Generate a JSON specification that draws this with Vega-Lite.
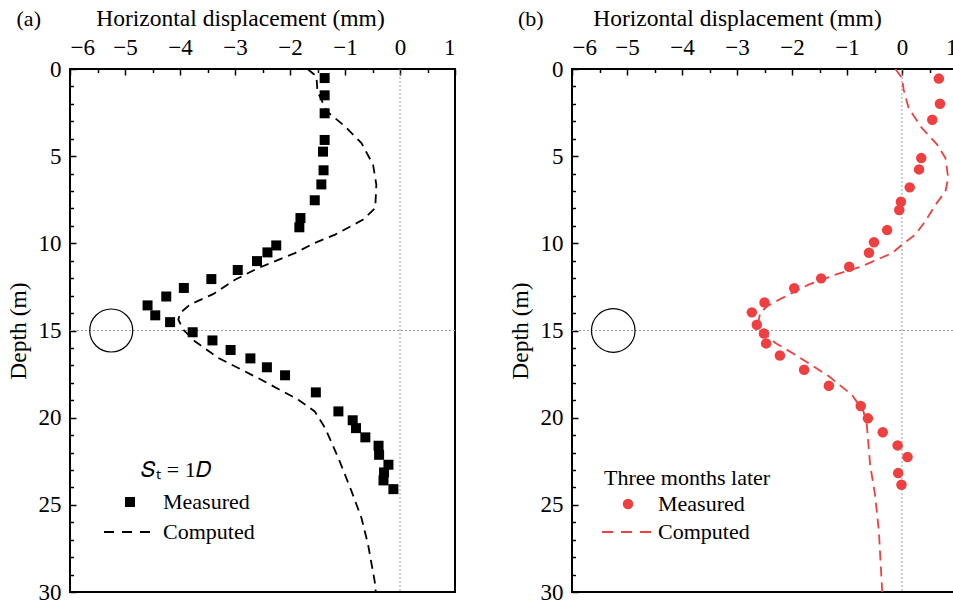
{
  "$schema": "https://vega.github.io/schema/vega-lite/v6.json",
  "padding": {"left": 5, "top": 5, "right": 0, "bottom": 0},
  "config": {
    "font": "Liberation Serif",
    "view": {"stroke": "black", "strokeWidth": 2},
    "axis": {"domain": false, "grid": false, "zindex": 1, "tickColor": "black", "tickWidth": 1.5, "labelColor": "black", "titleColor": "black", "labelFont": "Liberation Serif", "titleFont": "Liberation Serif", "titleFontWeight": "normal", "labelFontSize": 23, "titleFontSize": 23.5},
    "legend": {"labelFont": "Liberation Serif", "titleFont": "Liberation Serif", "labelFontSize": 22, "titleFontSize": 22, "titleFontWeight": "normal", "labelColor": "black", "titleColor": "black", "padding": 0}
  },
  "datasets": {
    "ma": [
      {"x": -1.37, "depth": 0.52, "series": "Measured"}, {"x": -1.37, "depth": 1.51, "series": "Measured"}, {"x": -1.37, "depth": 2.54, "series": "Measured"}, {"x": -1.37, "depth": 4.07, "series": "Measured"}, {"x": -1.40, "depth": 4.74, "series": "Measured"}, {"x": -1.39, "depth": 5.81, "series": "Measured"}, {"x": -1.43, "depth": 6.62, "series": "Measured"}, {"x": -1.55, "depth": 7.53, "series": "Measured"}, {"x": -1.81, "depth": 8.55, "series": "Measured"}, {"x": -1.83, "depth": 9.08, "series": "Measured"}, {"x": -2.25, "depth": 10.12, "series": "Measured"}, {"x": -2.41, "depth": 10.52, "series": "Measured"}, {"x": -2.60, "depth": 11.02, "series": "Measured"}, {"x": -2.95, "depth": 11.53, "series": "Measured"}, {"x": -3.43, "depth": 12.05, "series": "Measured"}, {"x": -3.93, "depth": 12.56, "series": "Measured"}, {"x": -4.25, "depth": 13.05, "series": "Measured"}, {"x": -4.59, "depth": 13.56, "series": "Measured"}, {"x": -4.45, "depth": 14.13, "series": "Measured"}, {"x": -4.18, "depth": 14.52, "series": "Measured"}, {"x": -3.77, "depth": 15.1, "series": "Measured"}, {"x": -3.41, "depth": 15.57, "series": "Measured"}, {"x": -3.08, "depth": 16.12, "series": "Measured"}, {"x": -2.72, "depth": 16.6, "series": "Measured"}, {"x": -2.42, "depth": 17.11, "series": "Measured"}, {"x": -2.09, "depth": 17.57, "series": "Measured"}, {"x": -1.53, "depth": 18.55, "series": "Measured"}, {"x": -1.12, "depth": 19.64, "series": "Measured"}, {"x": -0.86, "depth": 20.15, "series": "Measured"}, {"x": -0.80, "depth": 20.6, "series": "Measured"}, {"x": -0.63, "depth": 21.13, "series": "Measured"}, {"x": -0.39, "depth": 21.61, "series": "Measured"}, {"x": -0.38, "depth": 22.13, "series": "Measured"}, {"x": -0.21, "depth": 22.7, "series": "Measured"}, {"x": -0.29, "depth": 23.14, "series": "Measured"}, {"x": -0.30, "depth": 23.6, "series": "Measured"}, {"x": -0.12, "depth": 24.1, "series": "Measured"}
    ],
    "ca": [
      {"x": -1.68, "depth": 0.0, "series": "Computed"}, {"x": -1.52, "depth": 0.42, "series": "Computed"}, {"x": -1.50, "depth": 1.28, "series": "Computed"}, {"x": -1.33, "depth": 2.43, "series": "Computed"}, {"x": -1.0, "depth": 3.29, "series": "Computed"}, {"x": -0.70, "depth": 4.25, "series": "Computed"}, {"x": -0.49, "depth": 5.49, "series": "Computed"}, {"x": -0.43, "depth": 6.64, "series": "Computed"}, {"x": -0.45, "depth": 7.97, "series": "Computed"}, {"x": -0.67, "depth": 8.64, "series": "Computed"}, {"x": -1.18, "depth": 9.5, "series": "Computed"}, {"x": -1.55, "depth": 9.98, "series": "Computed"}, {"x": -1.91, "depth": 10.56, "series": "Computed"}, {"x": -2.58, "depth": 11.42, "series": "Computed"}, {"x": -3.0, "depth": 12.09, "series": "Computed"}, {"x": -3.39, "depth": 12.9, "series": "Computed"}, {"x": -3.82, "depth": 13.52, "series": "Computed"}, {"x": -4.0, "depth": 14.0, "series": "Computed"}, {"x": -4.03, "depth": 14.38, "series": "Computed"}, {"x": -3.94, "depth": 14.95, "series": "Computed"}, {"x": -3.73, "depth": 15.62, "series": "Computed"}, {"x": -3.30, "depth": 16.58, "series": "Computed"}, {"x": -2.58, "depth": 17.73, "series": "Computed"}, {"x": -1.85, "depth": 18.97, "series": "Computed"}, {"x": -1.55, "depth": 19.64, "series": "Computed"}, {"x": -1.36, "depth": 20.6, "series": "Computed"}, {"x": -1.12, "depth": 22.32, "series": "Computed"}, {"x": -0.88, "depth": 24.23, "series": "Computed"}, {"x": -0.70, "depth": 25.76, "series": "Computed"}, {"x": -0.58, "depth": 27.29, "series": "Computed"}, {"x": -0.46, "depth": 29.39, "series": "Computed"}, {"x": -0.44, "depth": 30.0, "series": "Computed"}
    ],
    "mb": [
      {"x": 0.67, "depth": 0.55, "series": "Measured"}, {"x": 0.69, "depth": 1.99, "series": "Measured"}, {"x": 0.55, "depth": 2.91, "series": "Measured"}, {"x": 0.35, "depth": 5.11, "series": "Measured"}, {"x": 0.31, "depth": 5.76, "series": "Measured"}, {"x": 0.14, "depth": 6.79, "series": "Measured"}, {"x": -0.02, "depth": 7.61, "series": "Measured"}, {"x": -0.05, "depth": 8.09, "series": "Measured"}, {"x": -0.27, "depth": 9.24, "series": "Measured"}, {"x": -0.51, "depth": 9.94, "series": "Measured"}, {"x": -0.60, "depth": 10.54, "series": "Measured"}, {"x": -0.96, "depth": 11.34, "series": "Measured"}, {"x": -1.47, "depth": 12.01, "series": "Measured"}, {"x": -1.96, "depth": 12.58, "series": "Measured"}, {"x": -2.50, "depth": 13.39, "series": "Measured"}, {"x": -2.73, "depth": 13.96, "series": "Measured"}, {"x": -2.64, "depth": 14.67, "series": "Measured"}, {"x": -2.51, "depth": 15.17, "series": "Measured"}, {"x": -2.47, "depth": 15.74, "series": "Measured"}, {"x": -2.22, "depth": 16.43, "series": "Measured"}, {"x": -1.78, "depth": 17.25, "series": "Measured"}, {"x": -1.33, "depth": 18.17, "series": "Measured"}, {"x": -0.75, "depth": 19.33, "series": "Measured"}, {"x": -0.62, "depth": 20.04, "series": "Measured"}, {"x": -0.35, "depth": 20.84, "series": "Measured"}, {"x": -0.08, "depth": 21.59, "series": "Measured"}, {"x": 0.10, "depth": 22.26, "series": "Measured"}, {"x": -0.07, "depth": 23.18, "series": "Measured"}, {"x": -0.01, "depth": 23.85, "series": "Measured"}
    ],
    "cb": [
      {"x": -0.12, "depth": 0.0, "series": "Computed"}, {"x": 0.0, "depth": 0.52, "series": "Computed"}, {"x": 0.03, "depth": 1.19, "series": "Computed"}, {"x": 0.12, "depth": 2.24, "series": "Computed"}, {"x": 0.36, "depth": 3.38, "series": "Computed"}, {"x": 0.64, "depth": 4.34, "series": "Computed"}, {"x": 0.79, "depth": 5.11, "series": "Computed"}, {"x": 0.84, "depth": 6.25, "series": "Computed"}, {"x": 0.79, "depth": 7.02, "series": "Computed"}, {"x": 0.61, "depth": 7.78, "series": "Computed"}, {"x": 0.42, "depth": 8.74, "series": "Computed"}, {"x": 0.24, "depth": 9.5, "series": "Computed"}, {"x": 0.0, "depth": 10.08, "series": "Computed"}, {"x": -0.18, "depth": 10.56, "series": "Computed"}, {"x": -0.73, "depth": 11.32, "series": "Computed"}, {"x": -1.21, "depth": 11.8, "series": "Computed"}, {"x": -1.70, "depth": 12.37, "series": "Computed"}, {"x": -2.18, "depth": 13.14, "series": "Computed"}, {"x": -2.45, "depth": 13.6, "series": "Computed"}, {"x": -2.58, "depth": 14.0, "series": "Computed"}, {"x": -2.61, "depth": 14.48, "series": "Computed"}, {"x": -2.51, "depth": 15.15, "series": "Computed"}, {"x": -2.30, "depth": 15.72, "series": "Computed"}, {"x": -1.94, "depth": 16.39, "series": "Computed"}, {"x": -1.33, "depth": 17.63, "series": "Computed"}, {"x": -0.91, "depth": 18.69, "series": "Computed"}, {"x": -0.70, "depth": 19.64, "series": "Computed"}, {"x": -0.64, "depth": 20.41, "series": "Computed"}, {"x": -0.58, "depth": 22.7, "series": "Computed"}, {"x": -0.49, "depth": 24.42, "series": "Computed"}, {"x": -0.42, "depth": 26.52, "series": "Computed"}, {"x": -0.36, "depth": 30.0, "series": "Computed"}
    ],
    "tunnel": [{"x": -5.25, "depth": 15}],
    "la": [{"label": "(a)"}],
    "lb": [{"label": "(b)"}]
  },
  "resolve": {"scale": {"x": "independent", "y": "independent", "color": "independent"}, "legend": {"color": "independent"}},
  "spacing": 50,
  "hconcat": [
    {
      "width": 385, "height": 523,
      "resolve": {"axis": {"x": "independent", "y": "independent"}},
      "layer": [
        {
          "data": {"name": "tunnel"},
          "mark": {"type": "rule", "color": "#9a9a9a", "strokeDash": [2, 2], "strokeWidth": 1},
          "encoding": {"x": {"datum": 0, "type": "quantitative", "scale": {"domain": [-6, 1], "nice": false}, "axis": {"orient": "top", "values": [-5.5, -4.5, -3.5, -2.5, -1.5, -0.5, 0.5], "tickSize": 3.5, "offset": -3.5, "labels": false, "title": null}}}
        },
        {
          "data": {"name": "tunnel"},
          "mark": {"type": "rule", "color": "#9a9a9a", "strokeDash": [2, 2], "strokeWidth": 1},
          "encoding": {"y": {"datum": 15, "type": "quantitative", "scale": {"domain": [0, 30], "nice": false, "reverse": true}, "axis": {"orient": "left", "values": [1, 2, 3, 4, 6, 7, 8, 9, 11, 12, 13, 14, 16, 17, 18, 19, 21, 22, 23, 24, 26, 27, 28, 29], "tickSize": 3.5, "offset": -3.5, "labels": false, "title": null}}}
        },
        {
          "data": {"name": "tunnel"},
          "mark": {"type": "point", "shape": "circle", "size": 1850, "filled": false, "stroke": "black", "strokeWidth": 1.2, "opacity": 1},
          "encoding": {"x": {"field": "x", "type": "quantitative", "axis": null}, "y": {"field": "depth", "type": "quantitative", "axis": null}}
        },
        {
          "data": {"name": "la"},
          "mark": {"type": "text", "fontSize": 22, "font": "Liberation Serif", "color": "black"},
          "encoding": {"text": {"field": "label"}, "x": {"datum": -6.75, "type": "quantitative", "axis": null}, "y": {"datum": -2.85, "type": "quantitative", "axis": null}}
        },
        {
          "data": {"name": "ca"},
          "mark": {"type": "line", "color": "black", "strokeDash": [9, 6], "strokeWidth": 1.8},
          "encoding": {
            "x": {"field": "x", "type": "quantitative", "axis": null},
            "y": {"field": "depth", "type": "quantitative", "axis": null},
            "order": {"field": "depth", "type": "quantitative"}
          }
        },
        {
          "data": {"name": "ma"},
          "mark": {"type": "point", "shape": "square", "filled": true, "size": 100, "opacity": 1},
          "encoding": {
            "x": {"field": "x", "type": "quantitative", "axis": {"orient": "top", "values": [-6, -5, -4, -3, -2, -1, 0, 1], "tickSize": 6, "offset": -6, "labelPadding": 10, "title": "Horizontal displacement (mm)", "titlePadding": 6, "titleX": 170}},
            "y": {"field": "depth", "type": "quantitative", "axis": {"orient": "left", "values": [0, 5, 10, 15, 20, 25, 30], "tickSize": 6, "offset": -6, "labelPadding": 9, "title": "Depth (m)", "titlePadding": 8}},
            "color": {"field": "series", "type": "nominal", "scale": {"domain": ["Measured", "Computed"], "range": ["black", "black"]},
              "legend": {"orient": "none", "legendX": 28, "legendY": 391, "title": "𝑆ₜ = 1𝐷", "titleAnchor": "middle", "titlePadding": 9, "symbolSize": 100, "symbolOffset": 21, "labelOffset": 22, "rowPadding": 8,
                "encoding": {"symbols": {
                  "shape": {"value": {"expr": "datum.value === 'Computed' ? 'stroke' : 'square'"}},
                  "size": {"value": {"expr": "datum.value === 'Computed' ? 2704 : 100"}},
                  "strokeDash": {"value": {"expr": "datum.value === 'Computed' ? [10, 8] : [1, 0]"}},
                  "stroke": {"value": "black"},
                  "fill": {"value": {"expr": "datum.value === 'Computed' ? 'transparent' : 'black'"}},
                  "strokeWidth": {"value": {"expr": "datum.value === 'Computed' ? 1.8 : 0"}},
                  "opacity": {"value": 1}
                }}
              }
            }
          }
        }
      ]
    },
    {
      "width": 385, "height": 523,
      "resolve": {"axis": {"x": "independent", "y": "independent"}},
      "layer": [
        {
          "data": {"name": "tunnel"},
          "mark": {"type": "rule", "color": "#9a9a9a", "strokeDash": [2, 2], "strokeWidth": 1},
          "encoding": {"x": {"datum": 0, "type": "quantitative", "scale": {"domain": [-6, 1], "nice": false}, "axis": {"orient": "top", "values": [-5.5, -4.5, -3.5, -2.5, -1.5, -0.5, 0.5], "tickSize": 3.5, "offset": -3.5, "labels": false, "title": null}}}
        },
        {
          "data": {"name": "tunnel"},
          "mark": {"type": "rule", "color": "#9a9a9a", "strokeDash": [2, 2], "strokeWidth": 1},
          "encoding": {"y": {"datum": 15, "type": "quantitative", "scale": {"domain": [0, 30], "nice": false, "reverse": true}, "axis": {"orient": "left", "values": [1, 2, 3, 4, 6, 7, 8, 9, 11, 12, 13, 14, 16, 17, 18, 19, 21, 22, 23, 24, 26, 27, 28, 29], "tickSize": 3.5, "offset": -3.5, "labels": false, "title": null}}}
        },
        {
          "data": {"name": "tunnel"},
          "mark": {"type": "point", "shape": "circle", "size": 1900, "filled": false, "stroke": "black", "strokeWidth": 1.2, "opacity": 1},
          "encoding": {"x": {"field": "x", "type": "quantitative", "axis": null}, "y": {"field": "depth", "type": "quantitative", "axis": null}}
        },
        {
          "data": {"name": "lb"},
          "mark": {"type": "text", "fontSize": 22, "font": "Liberation Serif", "color": "black"},
          "encoding": {"text": {"field": "label"}, "x": {"datum": -6.75, "type": "quantitative", "axis": null}, "y": {"datum": -2.85, "type": "quantitative", "axis": null}}
        },
        {
          "data": {"name": "cb"},
          "mark": {"type": "line", "color": "#EE4040", "strokeDash": [10, 6], "strokeWidth": 1.8},
          "encoding": {
            "x": {"field": "x", "type": "quantitative", "axis": null},
            "y": {"field": "depth", "type": "quantitative", "axis": null},
            "order": {"field": "depth", "type": "quantitative"}
          }
        },
        {
          "data": {"name": "mb"},
          "mark": {"type": "point", "shape": "circle", "filled": true, "size": 110, "opacity": 1},
          "encoding": {
            "x": {"field": "x", "type": "quantitative", "axis": {"orient": "top", "values": [-6, -5, -4, -3, -2, -1, 0, 1], "tickSize": 6, "offset": -6, "labelPadding": 10, "title": "Horizontal displacement (mm)", "titlePadding": 6, "titleX": 165}},
            "y": {"field": "depth", "type": "quantitative", "axis": {"orient": "left", "values": [0, 5, 10, 15, 20, 25, 30], "tickSize": 6, "offset": -6, "labelPadding": 9, "title": "Depth (m)", "titlePadding": 8}},
            "color": {"field": "series", "type": "nominal", "scale": {"domain": ["Measured", "Computed"], "range": ["#EE4040", "#EE4040"]},
              "legend": {"orient": "none", "legendX": 24, "legendY": 399, "title": "Three months later", "titleAnchor": "start", "titlePadding": 3, "symbolSize": 100, "symbolOffset": 21, "labelOffset": 19, "rowPadding": 6,
                "encoding": {
                  "title": {"dx": {"value": 8}},
                  "symbols": {
                  "shape": {"value": {"expr": "datum.value === 'Computed' ? 'stroke' : 'circle'"}},
                  "size": {"value": {"expr": "datum.value === 'Computed' ? 2704 : 110"}},
                  "strokeDash": {"value": {"expr": "datum.value === 'Computed' ? [11, 8] : [1, 0]"}},
                  "stroke": {"value": "#EE4040"},
                  "fill": {"value": {"expr": "datum.value === 'Computed' ? 'transparent' : '#EE4040'"}},
                  "strokeWidth": {"value": {"expr": "datum.value === 'Computed' ? 1.8 : 0"}},
                  "opacity": {"value": 1}
                }}
              }
            }
          }
        }
      ]
    }
  ]
}
